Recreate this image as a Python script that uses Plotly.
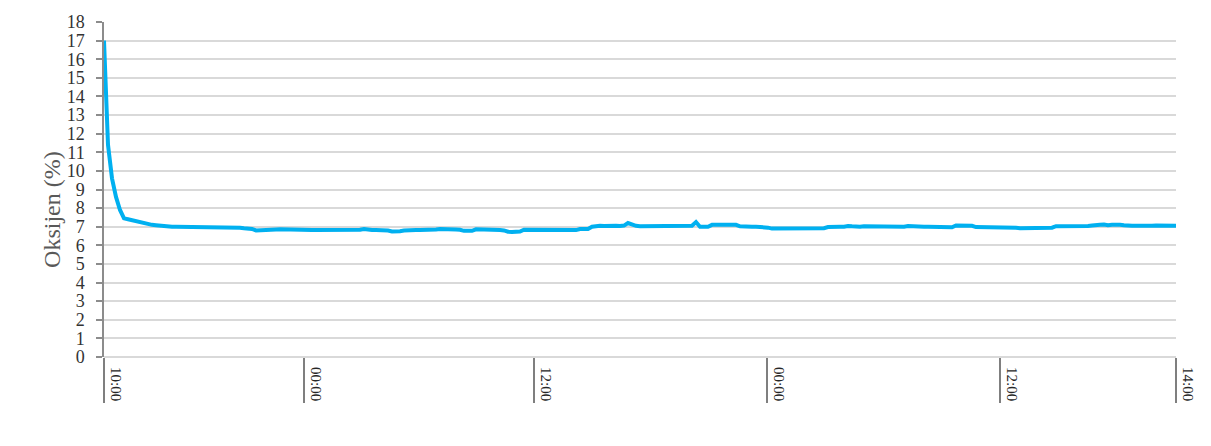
import plotly.graph_objects as go

# Oxygen concentration (%) logged at equal sampling steps
oxygen = [
    17.0, 11.4, 9.6, 8.6, 7.9, 7.45, 7.4, 7.35, 7.3, 7.2,
    7.15, 7.12, 7.1, 7.08, 7.05, 7.02, 7.0, 7.0, 7.0, 7.0,
    7.0, 7.0, 7.0, 7.0, 7.0, 7.0, 7.0, 7.0, 7.0, 7.0,
    7.0, 7.0, 6.98, 6.98, 6.95, 6.92, 6.9, 6.88, 6.8, 6.8,
    6.8, 6.8, 6.85, 6.85, 6.86, 6.85, 6.85, 6.82, 6.82, 6.82,
    6.82, 6.82, 6.82, 6.82, 6.82, 6.82, 6.82, 6.82, 6.82, 6.82,
    6.82, 6.82, 6.82, 6.82, 6.84, 6.88, 6.84, 6.82, 6.82, 6.82,
    6.82, 6.8, 6.75, 6.73, 6.76, 6.8, 6.82, 6.82, 6.82, 6.82,
    6.82, 6.82, 6.84, 6.85, 6.88, 6.86, 6.85, 6.85, 6.85, 6.84,
    6.78, 6.78, 6.78, 6.86, 6.86, 6.86, 6.85, 6.82, 6.82, 6.82,
    6.8, 6.73, 6.72, 6.73, 6.74, 6.84, 6.84, 6.84, 6.8, 6.8,
    6.8, 6.8, 6.8, 6.8, 6.8, 6.8, 6.8, 6.8, 6.82, 6.88,
    6.9, 6.88, 7.0, 7.05, 7.05, 7.04, 7.06, 7.05, 7.05, 7.04,
    7.06, 7.2, 7.12, 7.05, 7.03, 7.03, 7.04, 7.03, 7.02, 7.04,
    7.03, 7.03, 7.05, 7.03, 7.02, 7.04, 7.03, 7.05, 7.25, 7.0,
    7.0, 7.0, 7.1, 7.12, 7.1, 7.1, 7.1, 7.08, 7.1, 7.02,
    7.0, 7.0, 7.0, 7.0, 7.0, 6.98, 6.95, 6.9, 6.9, 6.9,
    6.9, 6.9, 6.9, 6.9, 6.9, 6.9, 6.9, 6.9, 6.9, 6.9,
    6.92, 6.98, 7.0, 7.02, 7.0, 7.0, 7.04, 7.02, 7.0, 7.0,
    7.03, 7.03, 7.0, 6.98, 7.0, 7.02, 7.02, 7.0, 7.0, 6.98,
    7.0, 7.04, 7.02, 7.0, 6.98, 7.0, 7.0, 7.0, 7.0, 7.0,
    6.97, 6.97, 6.97, 7.07, 7.07, 7.08, 7.06, 7.05, 6.98, 6.98,
    6.98, 6.97, 6.98, 6.98, 6.97, 6.98, 6.98, 6.97, 6.95, 6.92,
    6.92, 6.92, 6.91, 6.92, 6.92, 6.92, 6.92, 6.95, 7.03, 7.03,
    7.02, 7.05, 7.03, 7.0, 7.05, 7.03, 7.04, 7.06, 7.1, 7.1,
    7.12, 7.08, 7.1, 7.12, 7.1, 7.08, 7.05, 7.05, 7.05, 7.04,
    7.05, 7.05, 7.05, 7.06, 7.05, 7.05, 7.05, 7.06, 7.05,
]
sample_index = list(range(len(oxygen)))

# Sample positions of the clock-time labels on the category axis
time_tick_pos = [0, 50, 107.5, 165.75, 224, 268]
time_tick_text = ["10:00", "00:00", "12:00", "00:00", "12:00", "14:00"]

y_ticks = list(range(0, 19))

SERIF = "Liberation Serif, Times New Roman, serif"
PLOT_LEFT, PLOT_WIDTH = 104, 1072

fig = go.Figure()
fig.add_trace(go.Scatter(
    x=sample_index, y=oxygen, mode="lines",
    line=dict(color="#00b0f0", width=4),
    showlegend=False, hoverinfo="y",
))

# rotated clock-time labels beside each long tick
for pos, txt in zip(time_tick_pos, time_tick_text):
    fig.add_annotation(
        x=pos, xref="x", y=0, yref="paper",
        text=txt, textangle=90, showarrow=False,
        xanchor="left", yanchor="top", xshift=2, yshift=-8,
        font=dict(family=SERIF, size=15, color="#262626"),
    )

# vertical axis title
fig.add_annotation(
    x=(52 - PLOT_LEFT) / PLOT_WIDTH, xref="paper", y=0.439, yref="paper",
    text="Oksijen (%)", textangle=-90, showarrow=False,
    xanchor="center", yanchor="middle",
    font=dict(family=SERIF, size=24, color="#595959"),
)

fig.update_layout(
    width=1211, height=446,
    margin=dict(l=PLOT_LEFT, r=35, t=15, b=89),
    paper_bgcolor="white", plot_bgcolor="white",
    xaxis=dict(
        range=[0, len(oxygen) - 1],
        tickvals=time_tick_pos, ticktext=time_tick_text,
        showticklabels=False,
        ticks="outside", ticklen=45, tickwidth=2, tickcolor="#7f7f7f",
        showgrid=False, zeroline=False, showline=False,
    ),
    yaxis=dict(
        range=[0, 18], tickvals=y_ticks,
        showgrid=True, gridcolor="#d9d9d9", gridwidth=1.5,
        zeroline=True, zerolinecolor="#d9d9d9", zerolinewidth=1.5,
        showline=True, linecolor="#8c8c8c", linewidth=1.5,
        ticks="outside", ticklen=6, tickcolor="#8c8c8c", tickwidth=1.5,
        ticklabelstandoff=8,
        tickfont=dict(family=SERIF, size=18, color="#333333"),
    ),
)

fig.write_html("out.html")
